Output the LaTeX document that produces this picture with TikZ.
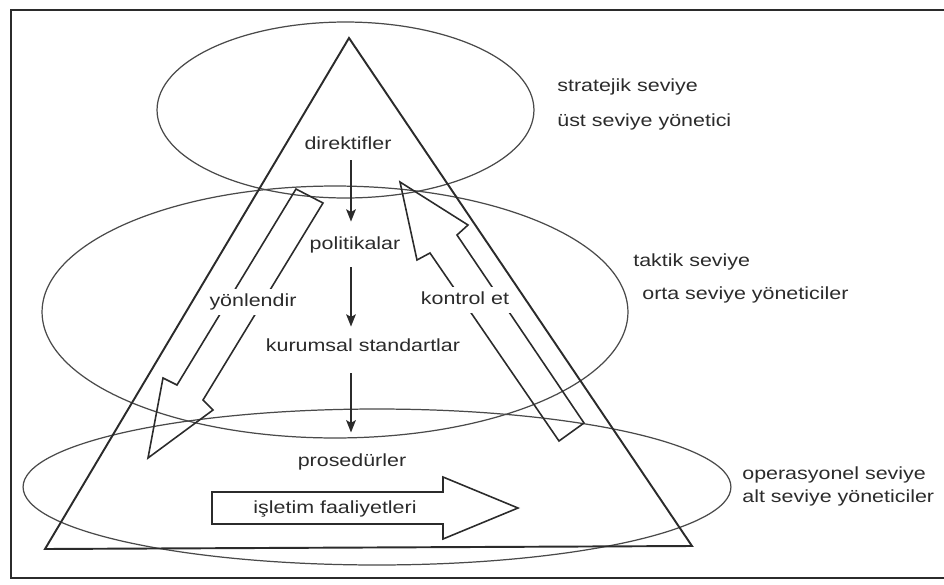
\documentclass[tikz,border=0pt]{standalone}
\usepackage{fontspec}
\setmainfont{Liberation Sans}[FakeStretch=1.22]
\usetikzlibrary{arrows.meta}
\definecolor{ink}{HTML}{2B2B2B}
\definecolor{ell}{HTML}{4A4A4A}
\begin{document}
\begin{tikzpicture}[x=0.02cm,y=-0.02cm,
  lbl/.style={inner sep=0pt, text height=7.2pt, text depth=2pt, font=\fontsize{10}{12}\selectfont, text=ink},
  cut/.style={lbl, fill=white, inner xsep=2pt, inner ysep=3pt},
  side/.style={lbl, anchor=west},
  tri/.style={draw=ink, line width=1.1pt, line join=miter},
  lvl/.style={draw=ell, line width=0.7pt},
  hollow/.style={draw=ink, line width=0.9pt, line join=miter},
  flow/.style={draw=ink, line width=1.1pt, -{Stealth[length=7pt,width=5.5pt,inset=1.5pt]}},
  frame/.style={draw=ink, line width=1pt}]
\useasboundingbox (0,0) rectangle (944,585);
% frame
\draw[frame] (944,10) -- (11,10) -- (11,578) -- (944,578);
% level ellipses
\draw[lvl] (345.5,110) ellipse [x radius=3.77cm, y radius=1.76cm];
\draw[lvl] (335,312) ellipse [x radius=5.86cm, y radius=2.52cm];
\draw[lvl] (377,487) ellipse [x radius=7.08cm, y radius=1.56cm];
% pyramid
\draw[tri] (349,38) -- (692,546) -- (45,549) -- cycle;
% hollow arrows
\draw[hollow] (296,189) -- (323,203) -- (203,400) -- (213,410) -- (148,458) -- (163,378) -- (177,385) -- cycle;
\draw[hollow] (400,182) -- (417,260) -- (430,253) -- (559,441) -- (584,423) -- (457,235) -- (468,225) -- cycle;
\draw[hollow] (212,492) -- (443,492) -- (443,477) -- (518,508) -- (443,539) -- (443,524) -- (212,524) -- cycle;
% texts
\node[lbl] (dir) at (348,145) {direktifler};
\node[lbl] (pol) at (355,245) {politikalar};
\node[lbl] (kur) at (363,347) {kurumsal standartlar};
\node[lbl] (pros) at (352,462) {prosedürler};
\node[cut] (yon) at (253,302) {yönlendir};
\node[cut] (kon) at (465,300) {kontrol et};
\node[lbl] (isl) at (335,509) {işletim faaliyetleri};
\node[side] (strat) at (557,87) {stratejik seviye};
\node[side] (ust) at (557,122) {üst seviye yönetici};
\node[side] (takt) at (633,262) {taktik seviye};
\node[side] (orta) at (642,295) {orta seviye yöneticiler};
\node[side] (oper) at (742,475) {operasyonel seviye};
\node[side] (alt) at (742,498) {alt seviye yöneticiler};
% flow arrows
\coordinate (ax) at (351,0);
\draw[flow, shorten <=4pt, shorten >=8.5pt] (ax |- dir.south) -- (ax |- pol.north);
\draw[flow, shorten <=8pt, shorten >=6.8pt] (ax |- pol.south) -- (ax |- kur.north);
\draw[flow, shorten <=10pt, shorten >=12pt] (ax |- kur.south) -- (ax |- pros.north);
\end{tikzpicture}
\end{document}
